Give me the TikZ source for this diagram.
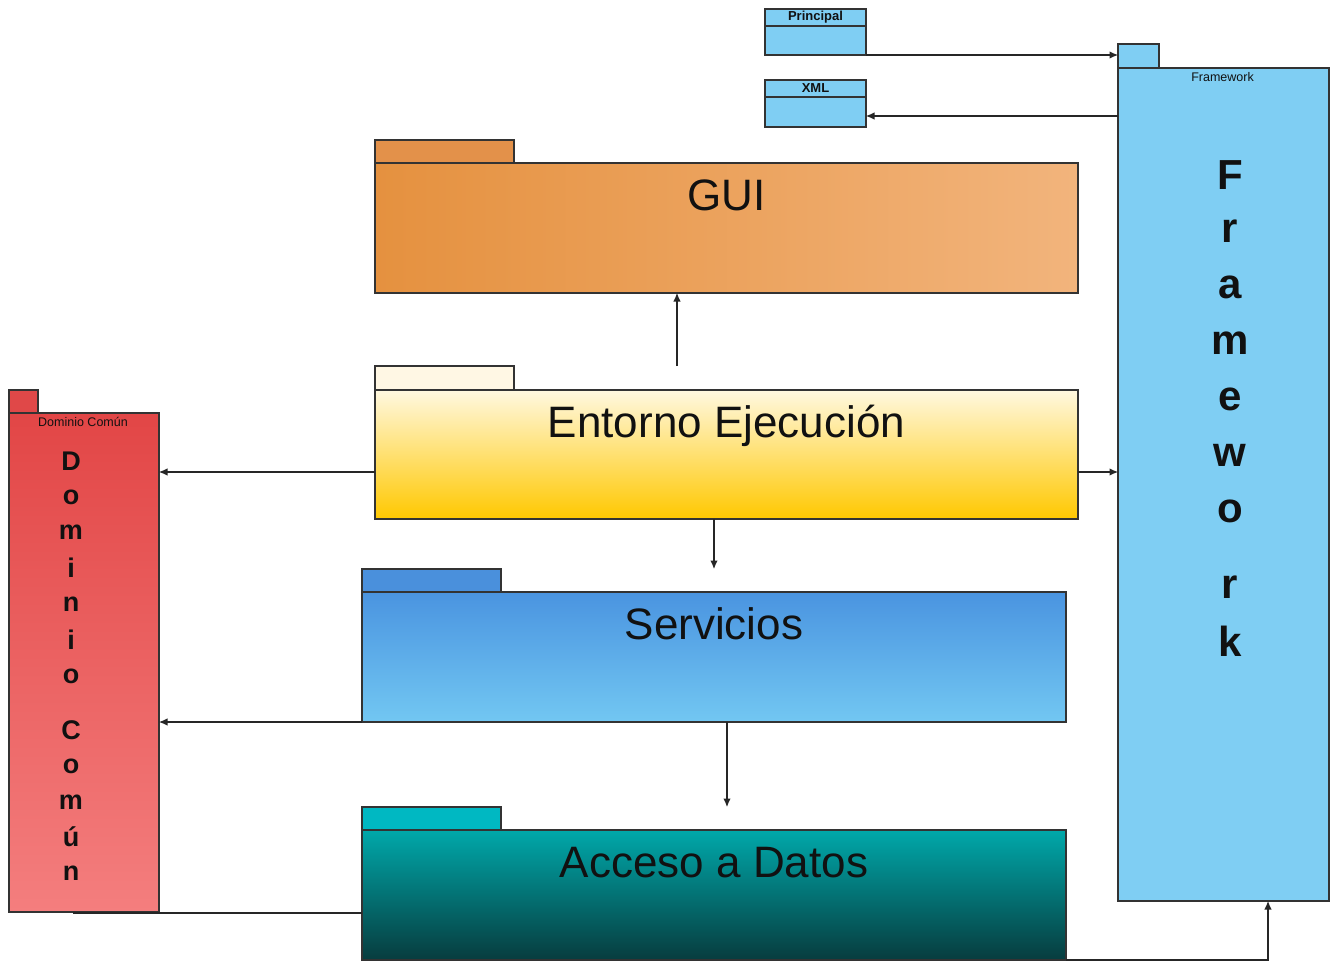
\documentclass[tikz,border=0pt]{standalone}
\usepackage{fontspec}
\setmainfont{Liberation Sans}
\usetikzlibrary{arrows.meta,calc}

\definecolor{fwblue}{HTML}{7FCEF3}
\definecolor{guiL}{HTML}{E5913F}
\definecolor{guiR}{HTML}{F2B47C}
\definecolor{guiTab}{HTML}{E3914A}
\definecolor{entT}{HTML}{FFF8E0}
\definecolor{entB}{HTML}{FFC800}
\definecolor{entTab}{HTML}{FFF7E4}
\definecolor{srvT}{HTML}{4A94E0}
\definecolor{srvB}{HTML}{72C7F2}
\definecolor{srvTab}{HTML}{4A90DC}
\definecolor{accT}{HTML}{00A8AA}
\definecolor{accB}{HTML}{073C3E}
\definecolor{accTab}{HTML}{00B8C2}
\definecolor{domT}{HTML}{E24646}
\definecolor{domB}{HTML}{F47E7E}
\definecolor{domTab}{HTML}{E04848}
\definecolor{ink}{HTML}{111111}

\begin{document}
\begin{tikzpicture}[x=1pt,y=-1pt,
  outline/.style={draw=black!80, line width=1.1pt},
  box/.style={outline, anchor=north west, inner sep=0pt, outer sep=0pt},
  edge/.style={draw=black!85, line width=1.1pt},
  arr/.style={edge, -{Latex[length=8.5pt,width=7.5pt]}},
  title/.style={font=\fontsize{44}{50}\selectfont, text=ink, anchor=base, inner sep=0pt},
  small/.style={font=\fontsize{12.5}{14}\selectfont, text=ink, inner sep=0pt},
  smallbold/.style={font=\bfseries\fontsize{13}{15}\selectfont, text=ink, inner sep=0pt},
  bigletter/.style={font=\bfseries\fontsize{42}{46}\selectfont, text=ink, inner sep=0pt},
  midletter/.style={font=\bfseries\fontsize{27}{30}\selectfont, text=ink, inner sep=0pt}]

\useasboundingbox[fill=white] (0,0) rectangle (1330,962);

% classes Principal and XML
\node[box, fill=fwblue, minimum width=101pt, minimum height=17pt] (prihead) at (765,9) {};
\node[box, fill=fwblue, minimum width=101pt, minimum height=29pt] (pri) at (765,26) {};
\node[smallbold] (pritxt) at (prihead.center) {Principal};
\node[box, fill=fwblue, minimum width=101pt, minimum height=17pt] (xmlhead) at (765,80) {};
\node[box, fill=fwblue, minimum width=101pt, minimum height=30pt] (xml) at (765,97) {};
\node[smallbold] (xmltxt) at (xmlhead.center) {XML};

% Framework package
\node[box, fill=fwblue, minimum width=41pt, minimum height=24pt] (fwtab) at (1118,44) {};
\node[box, fill=fwblue, minimum width=211pt, minimum height=833pt] (fw) at (1118,68) {};
\node[small] (fwlabel) at ($(fw.north)+(-1,9)$) {Framework};
\foreach \l/\yy [count=\i] in {F/175, r/231, a/287, m/343, e/399, w/455, o/511, r/587, k/641}
  \node[bigletter] (fwl\i) at (1230,\yy) {\l};

% GUI package
\node[box, fill=guiTab, minimum width=139pt, minimum height=23pt] (guitab) at (375,140) {};
\node[box, left color=guiL, right color=guiR, minimum width=703pt, minimum height=130pt] (gui) at (375,163) {};
\node[title] (guitxt) at ($(gui.north)+(0,47)$) {GUI};

% Entorno Ejecución package
\node[box, fill=entTab, minimum width=139pt, minimum height=24pt] (enttab) at (375,366) {};
\node[box, top color=entT, bottom color=entB, minimum width=703pt, minimum height=129pt] (ent) at (375,390) {};
\node[title] (enttxt) at ($(ent.north)+(0,47)$) {Entorno Ejecución};

% Servicios package
\node[box, fill=srvTab, minimum width=139pt, minimum height=23pt] (srvtab) at (362,569) {};
\node[box, top color=srvT, bottom color=srvB, minimum width=704pt, minimum height=130pt] (srv) at (362,592) {};
\node[title] (srvtxt) at ($(srv.north)+(0,47)$) {Servicios};

% Acceso a Datos package
\node[box, fill=accTab, minimum width=139pt, minimum height=23pt] (acctab) at (362,807) {};
\node[box, top color=accT, bottom color=accB, minimum width=704pt, minimum height=130pt] (acc) at (362,830) {};
\node[title] (acctxt) at ($(acc.north)+(0,47)$) {Acceso a Datos};

% Dominio Común package
\node[box, fill=domTab, minimum width=29pt, minimum height=23pt] (domtab) at (9,390) {};
\node[box, top color=domT, bottom color=domB, minimum width=150pt, minimum height=499pt] (dom) at (9,413) {};
\node[small] (domlabel) at ($(dom.north)+(-1,9)$) {Dominio Común};
\foreach \l/\yy [count=\i] in {D/461, o/497, m/532, i/568, n/604, i/640, o/676, C/730, o/766, m/802, ú/837, n/873}
  \node[midletter] (doml\i) at (71,\yy) {\l};

% dependencies
\draw[arr] (pri.south east) -- (pri.south east -| fwtab.west);
\coordinate (xmlin) at ($(xml.east)+(0,4)$);
\draw[arr] (xmlin -| fw.west) -- (xmlin);

\coordinate (e0) at ($(gui.south)+(-49.5,0)$);
\draw[arr] (e0 |- enttab.north) -- (e0);

\coordinate (e1) at ($(ent.west)+(0,17.5)$);
\draw[arr] (e1) -- (e1 -| dom.east);
\coordinate (e2) at ($(ent.east)+(0,17.5)$);
\draw[arr] (e2) -- (e2 -| fw.west);
\draw[arr] (srv.north |- ent.south) -- (srv.north |- srvtab.north);

\draw[arr] (srv.south west) -- (srv.south west -| dom.east);
\coordinate (s1) at ($(srv.south)+(13,0)$);
\draw[arr] (s1) -- (s1 |- acctab.north);

\coordinate (d1) at ($(dom.south)+(-11,1)$);
\draw[edge] (acc.west |- d1) -- (d1);
\coordinate (f1) at ($(fw.south)+(44.5,0)$);
\draw[arr] (acc.south east) -| (f1);

\end{tikzpicture}
\end{document}
